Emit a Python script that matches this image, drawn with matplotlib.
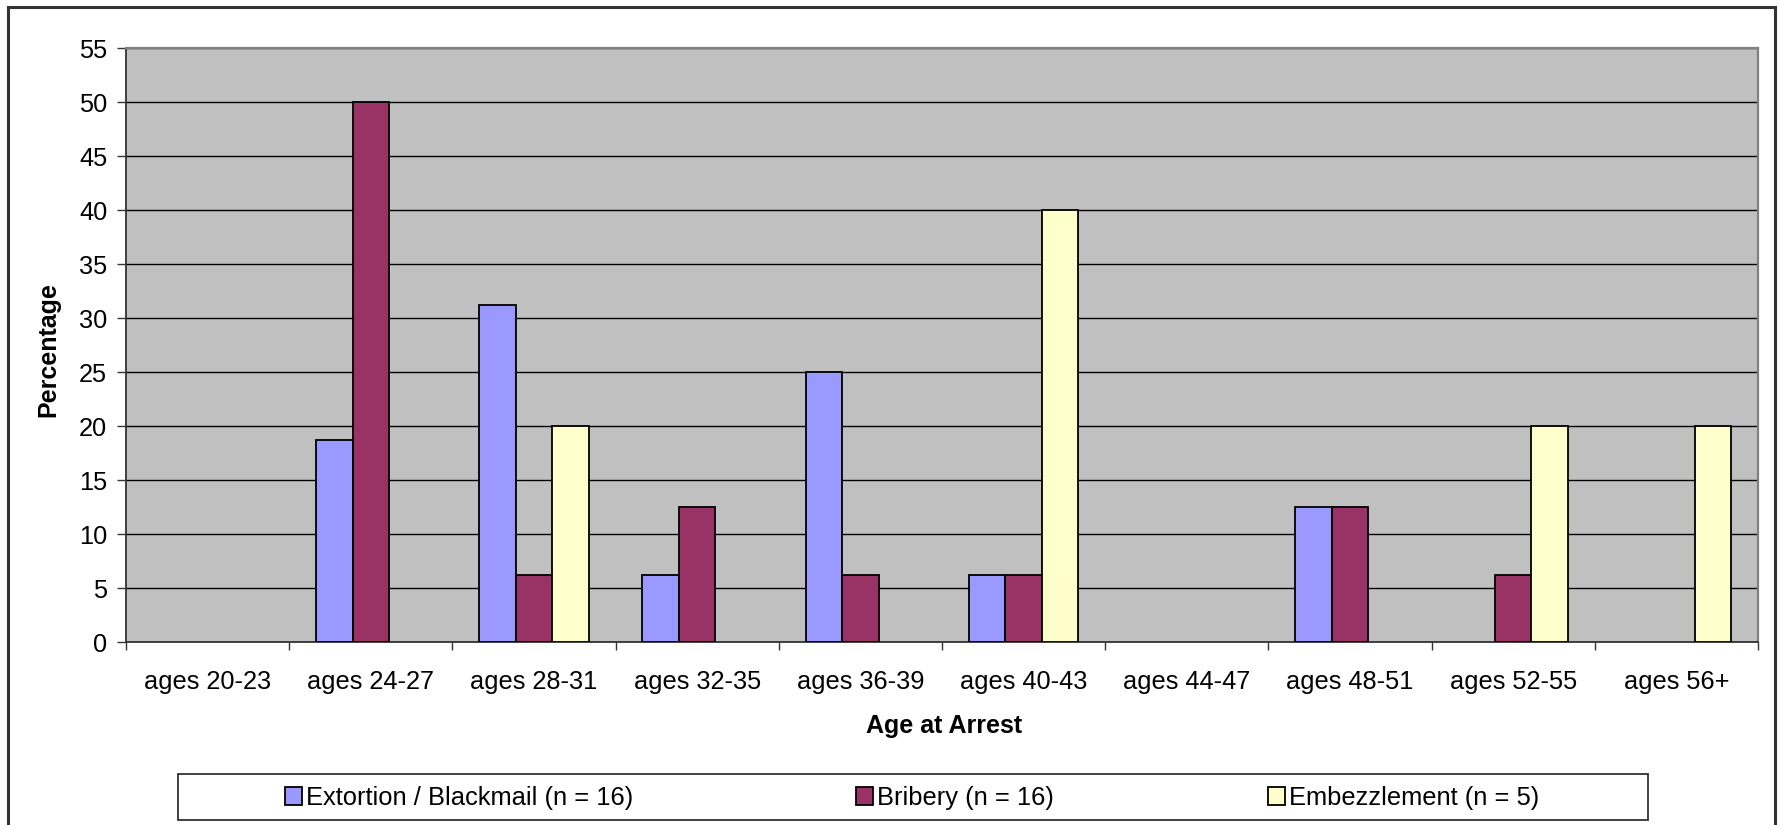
import matplotlib
matplotlib.use("Agg")
import matplotlib.pyplot as plt
import numpy as np
from matplotlib.patches import Patch, Rectangle

plt.rcParams["font.family"] = ["Liberation Sans", "DejaVu Sans"]

categories = ["ages 20-23", "ages 24-27", "ages 28-31", "ages 32-35", "ages 36-39",
              "ages 40-43", "ages 44-47", "ages 48-51", "ages 52-55", "ages 56+"]
extortion = [0, 18.75, 31.25, 6.25, 25, 6.25, 0, 12.5, 0, 0]
bribery = [0, 50, 6.25, 12.5, 6.25, 6.25, 0, 12.5, 6.25, 0]
embezzlement = [0, 0, 20, 0, 0, 40, 0, 0, 20, 20]
series_labels = ["Extortion / Blackmail (n = 16)", "Bribery (n = 16)", "Embezzlement (n = 5)"]
colors = ["#9999FF", "#993366", "#FFFFCC"]

W, H = 1781, 825
fig = plt.figure(figsize=(W / 100, H / 100), dpi=100)
ax = fig.add_axes([126 / W, 1 - 642 / H, (1758 - 126) / W, (642 - 48) / H])
ax.set_facecolor("#C0C0C0")

x = np.arange(len(categories))
bw = 0.224
for i, (vals, col) in enumerate(zip([extortion, bribery, embezzlement], colors)):
    # empty bars get no outline
    lw = [1.3 if v > 0 else 0 for v in vals]
    ax.bar(x + (i - 1) * bw, vals, width=bw, color=col, edgecolor="black",
           linewidth=lw, zorder=3)

ax.set_xlim(-0.5, len(categories) - 0.5)
ax.set_ylim(0, 55)
ax.set_yticks(np.arange(0, 56, 5))
ax.yaxis.grid(True, color="black", linewidth=1.0, zorder=0)
ax.set_axisbelow(True)

ax.set_xticks(np.arange(-0.5, len(categories), 1.0))
ax.set_xticklabels([])
ax.set_xticks(x, minor=True)
ax.set_xticklabels(categories, minor=True)
ax.tick_params(axis="x", which="major", direction="out", length=6, width=1, color="#333333")
ax.tick_params(axis="x", which="minor", length=0, pad=20, labelsize=18.3)
ax.tick_params(axis="y", direction="out", length=6.5, width=1, color="#333333",
               pad=7, labelsize=18.3)

for side in ["top", "right"]:
    ax.spines[side].set_color("#808080")
    ax.spines[side].set_linewidth(1.6)
for side in ["left", "bottom"]:
    ax.spines[side].set_color("#333333")
    ax.spines[side].set_linewidth(1.3)

fig.text(944 / W, 1 - 726 / H, "Age at Arrest", ha="center", va="center",
         fontsize=18, fontweight="bold")
fig.text(48 / W, 1 - 350 / H, "Percentage", ha="center", va="center",
         rotation=90, fontsize=18, fontweight="bold")

# outer chart border
fig.patches.append(Rectangle((8 / W, -0.1), (1775 - 8) / W, 1.1 - 7 / H,
                             transform=fig.transFigure, fill=False,
                             edgecolor="#333333", linewidth=2.2))

# legend box and entries
fig.patches.append(Rectangle((178 / W, 1 - 820 / H), (1648 - 178) / W, (820 - 774) / H,
                             transform=fig.transFigure, fill=True, facecolor="white",
                             edgecolor="#333333", linewidth=1.3))
for lbl, col, xpos in zip(series_labels, colors, [285, 856, 1268]):
    fig.legend(handles=[Patch(facecolor=col, edgecolor="black", linewidth=1.3)],
               labels=[lbl], loc="center left", bbox_to_anchor=(xpos / W, 1 - 798 / H),
               frameon=False, fontsize=18.4, handlelength=0.68, handleheight=0.68,
               handletextpad=0.15, borderpad=0, borderaxespad=0)

fig.savefig("out.png", dpi=100)
